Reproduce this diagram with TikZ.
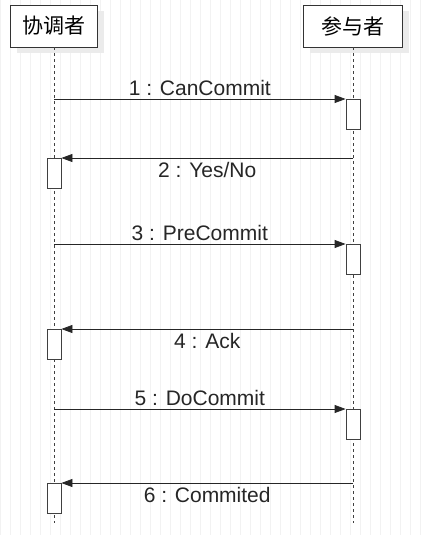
\documentclass[tikz,border=0pt]{standalone}
\usepackage{fontspec}
\setmainfont{Liberation Sans}
\newfontfamily\cjk{Noto Sans CJK SC}
\usetikzlibrary{arrows.meta,shadows}

\begin{document}
\begin{tikzpicture}[x=1pt,y=-1pt]
\tikzstyle{every node}+=[inner sep=0pt]
\tikzstyle{actor}=[draw=black!80,fill=white,thick,font=\cjk\fontsize{21}{24}\selectfont,
  general shadow={fill=black!8,shadow xshift=6pt,shadow yshift=-6pt}]
\tikzstyle{life}=[black!75,dash pattern=on 3pt off 3pt]
\tikzstyle{act}=[draw=black!75,fill=white,thick,minimum width=14pt,minimum height=30pt,anchor=north]
\tikzstyle{msg}=[black!85,thick,-{Triangle[length=11pt,width=8pt]}]
\tikzstyle{lbl}=[font=\fontsize{21}{24}\selectfont,text=black!85]
\useasboundingbox (0,0) rectangle (421,535);
% background grid
\draw [black!5,step=10] (0,0) grid (421,535);
% actors
\node [actor,minimum width=87pt,minimum height=42pt] (coord) at (54,26) {协调者};
\node [actor,minimum width=99pt,minimum height=42pt] (part) at (353,26) {参与者};
\coordinate (coordend) at (54,523);
\coordinate (partend) at (353,523);
\draw [life] (coord.south) -- (coordend);
\draw [life] (part.south) -- (partend);
% 1 : CanCommit
\coordinate (m1) at (54,99);
\node [act] (a1) at (353,99) {};
\draw [msg] (m1) -- node [lbl,above=3pt] {1 : CanCommit} (a1.north west);
% 2 : Yes/No
\coordinate (m2) at (353,158);
\node [act] (a2) at (54,158) {};
\draw [msg] (m2) -- node [lbl,below=4pt] {2 : Yes/No} (a2.north east);
% 3 : PreCommit
\coordinate (m3) at (54,244);
\node [act] (a3) at (353,244) {};
\draw [msg] (m3) -- node [lbl,above=3pt] {3 : PreCommit} (a3.north west);
% 4 : Ack
\coordinate (m4) at (353,329);
\node [act] (a4) at (54,329) {};
\draw [msg] (m4) -- node [lbl,below=4pt] {4 : Ack} (a4.north east);
% 5 : DoCommit
\coordinate (m5) at (54,409);
\node [act] (a5) at (353,409) {};
\draw [msg] (m5) -- node [lbl,above=3pt] {5 : DoCommit} (a5.north west);
% 6 : Commited
\coordinate (m6) at (353,483);
\node [act] (a6) at (54,483) {};
\draw [msg] (m6) -- node [lbl,below=4pt] {6 : Commited} (a6.north east);
\end{tikzpicture}
\end{document}
